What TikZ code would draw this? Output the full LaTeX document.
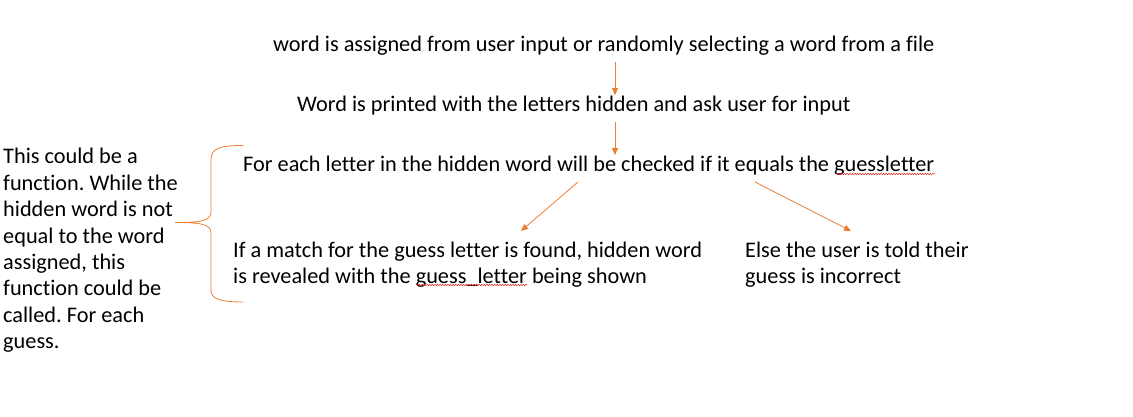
\documentclass[tikz,border=0pt]{standalone}
\usepackage{fontspec}
\setmainfont{Carlito}[Ligatures=NoCommon]
\usetikzlibrary{arrows.meta,decorations.pathmorphing}
\definecolor{office}{HTML}{ED7D31}
\definecolor{spell}{HTML}{E02020}
\tikzset{
  txt/.style={inner sep=0pt, font=\fontsize{22.3}{26.45}\selectfont\frenchspacing, text=black},
  blk/.style={txt, align=left, anchor=north west},
  pair/.style={blk, font=\fontsize{22.3}{26}\selectfont\frenchspacing},
  link/.style={draw=office, line width=0.8pt, -{Triangle[length=7pt,width=6pt]}},
  squig/.style={draw=spell, line width=0.5pt, decorate, decoration={snake, amplitude=0.7pt, segment length=2.6pt}}
}
\begin{document}
\begin{tikzpicture}[x=1pt,y=-1pt]
\useasboundingbox (0,0) rectangle (1133,417);
\node[txt, anchor=mid west] (n1) at (273,49) {word is assigned from user input or randomly selecting a word from a file};
\node[txt, anchor=mid west] (n2) at (297,109) {Word is printed with the letters hidden and ask user for input};
\node[txt, anchor=mid west] (n3) at (243,169.5) {For each letter in the hidden word will be checked if it equals the guessletter};
\node[pair] (n4) at (233,242) {If a match for the guess letter is found, hidden word\\is revealed with the guess\_letter being shown};
\node[pair] (n5) at (745,242) {Else the user is told their\\guess is incorrect};
\node[blk] (note) at (3,148) {This could be a\\function. While the\\hidden word is not\\equal to the word\\assigned, this\\function could be\\called. For each\\guess.};
% connectors
\coordinate (a1s) at (615,62);
\coordinate (a1e) at (615,95);
\coordinate (a2s) at (615,122);
\coordinate (a2e) at (615,155);
\coordinate (a3s) at (578,182);
\coordinate (a3e) at (521,231);
\coordinate (a4s) at (755,182);
\coordinate (a4e) at (851,231);
\draw[link] (a1s) -- (a1e);
\draw[link] (a2s) -- (a2e);
\draw[link] (a3s) -- (a3e);
\draw[link] (a4s) -- (a4e);
% brace
\coordinate (btip) at (175,222.5);
\draw[office, line width=0.8pt] (243,145.5) .. controls (220,145.5) and (211,148) .. (211,160)
  -- (211,212) .. controls (211,221) and (200,222.5) .. (btip)
  .. controls (200,222.5) and (211,224) .. (211,233)
  -- (211,290) .. controls (211,299) and (220,302) .. (243,302);
% spell-check marks
\draw[squig] (836,174) -- (935,174);
\draw[squig] (416,285) -- (527,285);
\end{tikzpicture}
\end{document}
